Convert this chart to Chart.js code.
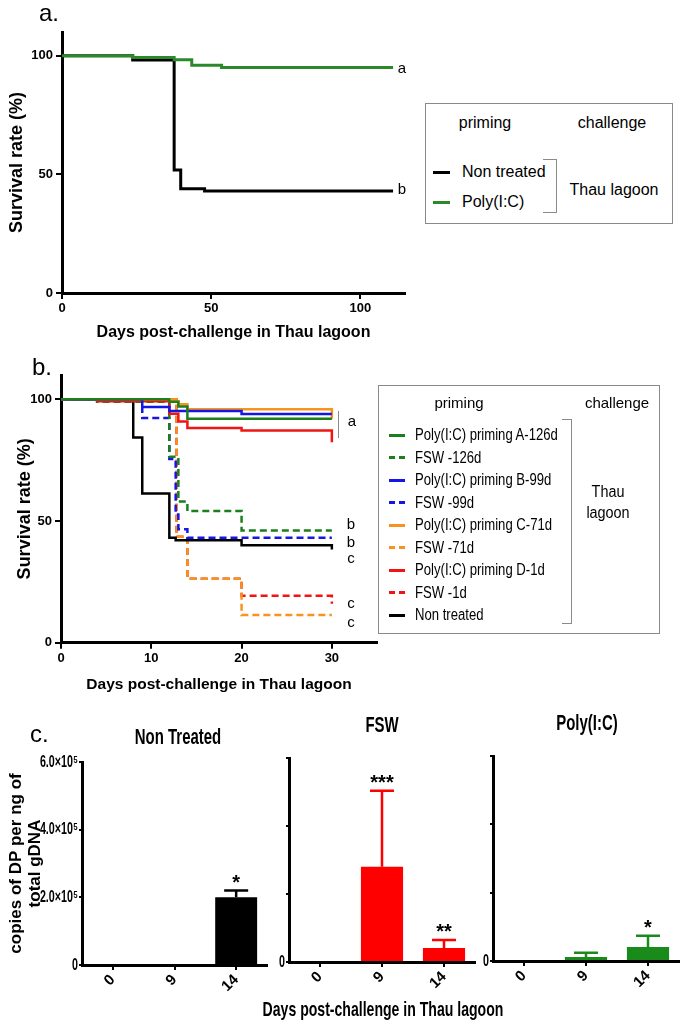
<!DOCTYPE html>
<html><head><meta charset="utf-8">
<script src="https://cdn.jsdelivr.net/npm/chart.js@4.4.1/dist/chart.umd.min.js"></script>
<style>
html,body{margin:0;padding:0;background:#fff;}
#root{position:relative;width:685px;height:1027px;overflow:hidden;font-family:"Liberation Sans",Arial,sans-serif;color:#000;}
canvas{position:absolute;}
.t{position:absolute;line-height:1;white-space:nowrap;color:#000;}
.box{position:absolute;border:1px solid #8a8a8a;box-sizing:border-box;}
.br{position:absolute;border:1.5px solid #8a8a8a;border-left:none;box-sizing:border-box;}
.ln{position:absolute;height:3px;}
</style></head><body><div id="root"></div>
<script>
// ---------- Panel a data (Kaplan-Meier steps) ----------
const aDaysNonTreated = [0, 23.7, 37.6, 39.8, 47.8, 111];
const aSurvNonTreated = [100, 98.2, 51.8, 43.9, 43.0, 43.0];
const aDaysPolyIC = [0, 23.7, 37.6, 43.5, 53.5, 111];
const aSurvPolyIC = [100, 99.3, 98.3, 96.0, 95.0, 95.0];
const aXTicks = [0, 50, 100];
const aYTicks = [0, 50, 100];

// ---------- Panel b data ----------
const bDaysPolyA = [0, 12, 13, 14, 30];
const bSurvPolyA = [100, 99.0, 97.1, 92.0, 92.0];
const bDaysFswA = [0, 4, 12, 13, 14, 20, 30];
const bSurvFswA = [100, 99.0, 76.4, 58.0, 54.1, 46.1, 46.1];
const bDaysPolyB = [0, 9, 12, 20, 30];
const bSurvPolyB = [100, 96.9, 95.2, 94.0, 94.0];
const bDaysFswB = [0, 9, 12, 12.7, 13, 14, 30];
const bSurvFswB = [100, 92.3, 75.5, 52.7, 46.6, 43.1, 43.1];
const bDaysPolyC = [0, 12, 13, 14, 30, 30];
const bSurvPolyC = [100, 99.2, 98.0, 95.9, 95.9, 92.0];
const bDaysFswC = [0, 12.8, 14, 20, 30];
const bSurvFswC = [100, 43.5, 26.3, 11.4, 11.4];
const bDaysPolyD = [0, 4, 12, 13, 14, 20, 30, 30];
const bSurvPolyD = [100, 99.2, 94.1, 90.9, 88.2, 87.2, 87.2, 82.4];
const bDaysFswD = [0, 12.8, 14, 20, 30, 30];
const bSurvFswD = [100, 43.5, 26.3, 19.3, 19.3, 16.0];
const bDaysNonTreated = [0, 8, 9, 12, 12.7, 20, 30, 30];
const bSurvNonTreated = [100, 84.3, 61.3, 43.1, 42.1, 40.0, 40.0, 38.3];
const bXTicks = [0, 10, 20, 30];
const bYTicks = [0, 50, 100];

// ---------- Panel c data ----------
const cCategories = ['0', '9', '14'];
const cNonTreatedMean = [0, 0, 2.0e5];
const cNonTreatedErr = [0, 0, 0.2e5];
const cNonTreatedStars = ['', '', '*'];
const cFswMean = [0, 2.8e5, 0.41e5];
const cFswErr = [0, 2.24e5, 0.24e5];
const cFswStars = ['', '***', '**'];
const cPolyMean = [0, 0.12e5, 0.41e5];
const cPolyErr = [0, 0.12e5, 0.33e5];
const cPolyStars = ['', '', '*'];
const cYTicks = [0, 2e5, 4e5, 6e5];
const cYTickLabels = ['0', '2.0\u00d710\u2075', '4.0\u00d710\u2075', '6.0\u00d710\u2075'];

// ---------- helpers ----------
const FAM = '"Liberation Sans", Arial, sans-serif';
const root = document.getElementById('root');
function el(cls, css, html) {
  const d = document.createElement('div');
  d.className = cls;
  Object.assign(d.style, css);
  if (html !== undefined) d.textContent = html;
  root.appendChild(d);
  return d;
}
// text: x is left edge, or centre when opt.center; cy = vertical centre.
function txt(s, x, cy, size, opt = {}) {
  const sx = opt.sx || 1;
  const d = el('t', {
    left: x + 'px', top: (cy - size * 0.5) + 'px', fontSize: size + 'px',
    fontWeight: opt.bold ? 'bold' : 'normal'
  }, s);
  if (opt.center) {
    d.style.transformOrigin = 'center';
    d.style.transform = 'translateX(-50%) scaleX(' + sx + ')';
  } else {
    d.style.transformOrigin = 'left center';
    d.style.transform = 'scaleX(' + sx + ')';
  }
  return d;
}
function makeCanvas(left, top, w, h) {
  const c = document.createElement('canvas');
  c.width = w; c.height = h;
  c.style.left = left + 'px'; c.style.top = top + 'px';
  c.style.width = w + 'px'; c.style.height = h + 'px';
  root.appendChild(c);
  return c;
}
function km(days, surv, color, dashed, width, order) {
  return {
    data: days.map((d, i) => ({ x: d, y: surv[i] })),
    borderColor: color, borderWidth: width, borderDash: dashed ? [7, 4] : [],
    stepped: true, pointRadius: 0, fill: false, order: order, tension: 0
  };
}
function kmScales(o) {
  const grid = { display: true, drawOnChartArea: false, drawTicks: true, tickLength: 6, color: '#000', lineWidth: 2 };
  const border = { display: true, color: '#000', width: 3 };
  return {
    x: {
      type: 'linear', min: 0, max: o.xMax, grid: grid, border: border,
      afterBuildTicks: s => { s.ticks = o.xTicks.map(v => ({ value: v })); },
      ticks: { color: '#000', font: { family: FAM, size: 13, weight: 'bold' }, padding: 2, maxRotation: 0, autoSkip: false },
      title: { display: true, text: 'Days post-challenge in Thau lagoon', color: '#000',
        font: { family: FAM, size: o.xTitleSize, weight: 'bold' }, padding: { top: 0, bottom: o.xTitlePad } },
      afterFit: s => { s.height = o.xHeight; }
    },
    y: {
      type: 'linear', min: 0, max: 110, grid: grid, border: border,
      afterBuildTicks: s => { s.ticks = o.yTicks.map(v => ({ value: v })); },
      ticks: { color: '#000', font: { family: FAM, size: 13, weight: 'bold' }, padding: 3, autoSkip: false },
      title: { display: true, text: 'Survival rate (%)', color: '#000',
        font: { family: FAM, size: 18, weight: 'bold' }, padding: { top: o.yTitlePad, bottom: 0 } },
      afterFit: s => { s.width = o.yWidth; }
    }
  };
}
const baseOpts = (pad) => ({
  responsive: false, animation: false, events: [], devicePixelRatio: 1,
  layout: { padding: pad },
  plugins: { legend: { display: false }, tooltip: { enabled: false }, title: { display: false } }
});

// ---------- Panel a chart ----------
{
  const cv = makeCanvas(0, 0, 420, 345);
  const o = baseOpts({ top: 32, right: 15, left: 0, bottom: 0 });
  o.scales = kmScales({ xMax: 115, xTicks: aXTicks, yTicks: aYTicks, xHeight: 52, yWidth: 62, xTitleSize: 16, xTitlePad: 2.4, yTitlePad: 6.2 });
  new Chart(cv, {
    type: 'line',
    data: { datasets: [
      km(aDaysPolyIC, aSurvPolyIC, '#2a8a2a', false, 3, 0),
      km(aDaysNonTreated, aSurvNonTreated, '#000000', false, 3, 1)
    ] },
    options: o
  });
}

// ---------- Panel b chart ----------
const GREEN = '#1c7f1c', BLUE = '#1515e6', ORANGE = '#f7931e', RED = '#f01414';
{
  const cv = makeCanvas(0, 345, 382, 355);
  const o = baseOpts({ top: 30, right: 5, left: 0, bottom: 0 });
  o.scales = kmScales({ xMax: 35, xTicks: bXTicks, yTicks: bYTicks, xHeight: 57.3, yWidth: 61, xTitleSize: 15.5, xTitlePad: 5.7, yTitlePad: 14.2 });
  new Chart(cv, {
    type: 'line',
    data: { datasets: [
      km(bDaysPolyA, bSurvPolyA, GREEN, false, 2.5, 0),
      km(bDaysPolyB, bSurvPolyB, BLUE, false, 2.5, 1),
      km(bDaysPolyC, bSurvPolyC, ORANGE, false, 2.5, 2),
      km(bDaysPolyD, bSurvPolyD, RED, false, 2.5, 3),
      km(bDaysNonTreated, bSurvNonTreated, '#000000', false, 2.5, 4),
      km(bDaysFswA, bSurvFswA, GREEN, true, 2.5, 5),
      km(bDaysFswB, bSurvFswB, BLUE, true, 2.5, 6),
      km(bDaysFswC, bSurvFswC, ORANGE, true, 2.5, 7),
      km(bDaysFswD, bSurvFswD, RED, true, 2.5, 8)
    ] },
    options: o
  });
}

// ---------- Panel c charts ----------
// condense horizontal (unrotated) canvas text, as in the reference's narrow lettering
const condensePlugin = {
  id: 'condense',
  beforeDraw(chart, args, opts) {
    const ctx = chart.ctx;
    if (ctx._condensed) return;
    const orig = ctx.fillText;
    ctx.fillText = function (t, x, y, mw) {
      const m = this.getTransform();
      if (!this._noCondense && Math.abs(m.b) < 1e-6 && Math.abs(m.c) < 1e-6) {
        this.save(); this.translate(x, y); this.scale(opts.sx, 1);
        if (mw !== undefined) orig.call(this, t, 0, 0, mw / opts.sx); else orig.call(this, t, 0, 0);
        this.restore();
      } else {
        if (mw !== undefined) orig.call(this, t, x, y, mw); else orig.call(this, t, x, y);
      }
    };
    ctx._condensed = true;
  }
};
const errPlugin = {
  id: 'errbars',
  afterDatasetsDraw(chart, args, opts) {
    const meta = chart.getDatasetMeta(0);
    const ys = chart.scales.y;
    const ctx = chart.ctx;
    ctx.save();
    ctx._noCondense = true;
    meta.data.forEach((bar, i) => {
      const v = opts.values[i], e = opts.errs[i];
      const yTop = ys.getPixelForValue(v + e);
      if (e > 0) {
        ctx.strokeStyle = opts.color; ctx.lineWidth = 2.5;
        ctx.beginPath();
        ctx.moveTo(bar.x, bar.y); ctx.lineTo(bar.x, yTop);
        ctx.moveTo(bar.x - opts.cap / 2, yTop); ctx.lineTo(bar.x + opts.cap / 2, yTop);
        ctx.stroke();
      }
      if (opts.stars[i]) {
        ctx.fillStyle = '#000';
        ctx.font = 'bold 20px ' + FAM;
        ctx.textAlign = 'center'; ctx.textBaseline = 'alphabetic';
        ctx.fillText(opts.stars[i], bar.x, yTop - 2);
      }
    });
    ctx._noCondense = false;
    ctx.restore();
  }
};
function barChart(c) {
  const cv = makeCanvas(c.left, c.top, c.w, c.h);
  const o = baseOpts({ top: c.padTop, right: c.padRight, left: 0, bottom: 0 });
  o.plugins.errbars = { values: c.values, errs: c.errs, stars: c.stars, color: c.color, cap: 24 };
  o.plugins.condense = { sx: 0.63 };
  const grid = { display: true, drawOnChartArea: false, drawTicks: true, color: '#000', lineWidth: 2 };
  const border = { display: true, color: '#000', width: 3 };
  o.scales = {
    x: {
      type: 'category', grid: Object.assign({}, grid, { offset: false, tickLength: 5 }), border: border,
      ticks: { color: '#000', font: { family: FAM, size: 15, weight: 'bold' }, minRotation: 45, maxRotation: 45, padding: 1, autoSkip: false },
      afterFit: s => { s.height = c.xHeight; }
    },
    y: {
      type: 'linear', min: 0, max: 6e5, grid: Object.assign({}, grid, { tickLength: 3 }), border: border,
      afterBuildTicks: s => { s.ticks = cYTicks.map(v => ({ value: v })); },
      ticks: { color: '#000', font: { family: FAM, size: 17, weight: 'bold' }, padding: 1, autoSkip: false,
        callback: (v, i) => (c.showLabels || i === 0) ? cYTickLabels[i] : '' },
      title: c.yTitle ? { display: true, text: c.yTitle, color: '#000',
        font: { family: FAM, size: 17, weight: 'bold', lineHeight: 1.15 }, padding: { top: 6.2, bottom: 0 } } : { display: false },
      afterFit: s => { s.width = c.yWidth; }
    }
  };
  new Chart(cv, {
    type: 'bar',
    data: { labels: cCategories, datasets: [{ data: c.values, backgroundColor: c.color, borderWidth: 0, barPercentage: 0.68, categoryPercentage: 1 }] },
    options: o,
    plugins: [condensePlugin, errPlugin]
  });
}
barChart({ left: 0, top: 745, w: 275, h: 265, padTop: 17, padRight: 8, yWidth: 82, xHeight: 45,
  values: cNonTreatedMean, errs: cNonTreatedErr, stars: cNonTreatedStars, color: '#000000', showLabels: true,
  yTitle: ['copies of DP per ng of', 'total gDNA'] });
barChart({ left: 270, top: 745, w: 212, h: 265, padTop: 13, padRight: 7, yWidth: 19, xHeight: 48,
  values: cFswMean, errs: cFswErr, stars: cFswStars, color: '#ff0000', showLabels: false });
barChart({ left: 478, top: 745, w: 207, h: 265, padTop: 10, padRight: 6, yWidth: 15, xHeight: 49,
  values: cPolyMean, errs: cPolyErr, stars: cPolyStars, color: '#1a8a1a', showLabels: false });

// ---------- Text, legends, annotations ----------
el('t', { left: '39px', top: '1.4px', fontSize: '24px' }, 'a.');
el('t', { left: '32px', top: '354.7px', fontSize: '24px' }, 'b.');
el('t', { left: '30px', top: '722px', fontSize: '24px' }, 'c.');

// panel a end labels
txt('a', 402, 67, 15, { center: true });
txt('b', 402, 188, 15, { center: true });

// panel a legend
el('box', { left: '425px', top: '103px', width: '248px', height: '121px' });
txt('priming', 485, 123, 16, { center: true });
txt('challenge', 612, 123, 16, { center: true });
el('ln', { left: '433px', top: '170.5px', width: '17px', background: '#000' });
txt('Non treated', 462, 172, 16);
el('ln', { left: '433px', top: '200.5px', width: '17px', background: '#2a8a2a' });
txt('Poly(I:C)', 462, 202, 16);
el('br', { left: '543px', top: '159px', width: '14px', height: '54px' });
txt('Thau lagoon', 614, 190, 16, { center: true });

// panel b end labels
el('t', { left: '337.5px', top: '411px', width: '1.5px', height: '27px', background: '#8a8a8a' });
txt('a', 352, 420, 15, { center: true });
txt('b', 351, 523, 15, { center: true });
txt('b', 351, 541, 15, { center: true });
txt('c', 351, 557, 15, { center: true });
txt('c', 351, 602, 15, { center: true });
txt('c', 351, 621, 15, { center: true });

// panel b legend
el('box', { left: '378px', top: '385px', width: '282px', height: '249px' });
txt('priming', 459, 402, 15, { center: true });
txt('challenge', 617, 402, 15, { center: true });
const legNames = ['Poly(I:C) priming A-126d', 'FSW -126d', 'Poly(I:C) priming B-99d', 'FSW -99d',
  'Poly(I:C) priming C-71d', 'FSW -71d', 'Poly(I:C) priming D-1d', 'FSW -1d', 'Non treated'];
const legColors = [GREEN, GREEN, BLUE, BLUE, ORANGE, ORANGE, RED, RED, '#000'];
const legDashed = [false, true, false, true, false, true, false, true, false];
const legY = [435, 457.5, 480, 502.5, 525, 547.5, 570, 592.5, 615];
legNames.forEach((n, i) => {
  const y = legY[i] - 1.5;
  if (legDashed[i]) {
    el('ln', { left: '389px', top: y + 'px', width: '6px', background: legColors[i] });
    el('ln', { left: '399px', top: y + 'px', width: '6px', background: legColors[i] });
  } else {
    el('ln', { left: '389px', top: y + 'px', width: '16px', background: legColors[i] });
  }
  txt(n, 415, legY[i], 16, { sx: 0.82 });
});
el('br', { left: '562px', top: '419px', width: '10px', height: '205px' });
txt('Thau', 608, 492, 16, { center: true, sx: 0.9 });
txt('lagoon', 608, 513, 16, { center: true, sx: 0.9 });

// panel c titles
txt('Non Treated', 178, 737, 22, { center: true, bold: true, sx: 0.68 });
txt('FSW', 382, 725, 22, { center: true, bold: true, sx: 0.68 });
txt('Poly(I:C)', 587, 723, 22, { center: true, bold: true, sx: 0.68 });
txt('Days post-challenge in Thau lagoon', 383, 1008, 21, { center: true, bold: true, sx: 0.67 });
</script>
</body></html>
